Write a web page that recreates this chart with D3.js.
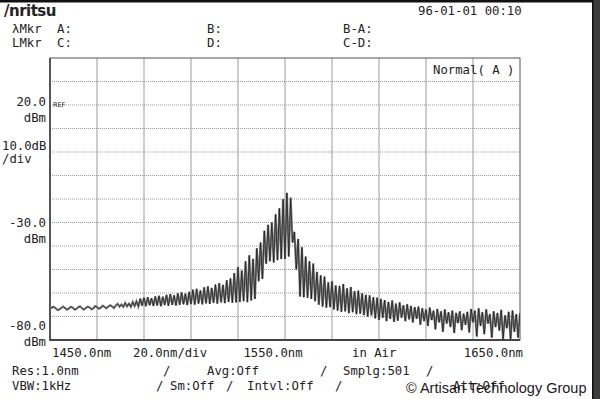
<!DOCTYPE html>
<html>
<head>
<meta charset="utf-8">
<script src="https://cdn.jsdelivr.net/npm/d3@7/dist/d3.min.js"></script>
<style>
  body { margin: 0; background: #fff; }
  svg text { font-family: "DejaVu Sans Mono", monospace; font-size: 12.3px; fill: #222; }
</style>
</head>
<body>
<div id="screen"></div>
<script>
// sweep: 1450 - 1650 nm, one sample every 0.8 nm (251 points)
const startNm = 1450;
const stepNm = 0.8;

// trace level in dBm
const traceDbm = [
  -66.8, -66.2, -65.9, -66.5, -67.2, -67.0, -66.3, -65.8, -66.4, -67.1,
  -66.6, -65.9, -66.2, -67.0, -66.8, -66.0, -65.7, -66.5, -67.1, -66.4,
  -65.8, -66.1, -66.9, -66.6, -65.6, -65.9, -66.7, -66.3, -65.4, -65.9,
  -66.5, -65.8, -65.2, -65.7, -66.4, -65.3, -64.6, -65.8, -64.9, -65.9,
  -64.2, -65.7, -64.5, -65.9, -63.8, -65.6, -63.5, -65.8, -62.4, -65.4,
  -62.0, -65.6, -61.8, -65.2, -62.2, -65.5, -61.5, -65.3, -61.2, -65.6,
  -61.6, -65.1, -60.8, -65.4, -60.5, -65.0, -61.0, -65.3, -60.2, -65.0,
  -59.8, -64.8, -60.3, -65.1, -59.5, -64.7, -58.6, -64.9, -58.2, -64.5,
  -58.9, -64.8, -57.6, -64.4, -57.2, -64.6, -57.8, -64.2, -56.4, -64.5,
  -55.8, -64.0, -56.5, -64.3, -54.6, -63.8, -53.8, -64.1, -51.5, -64.0,
  -49.0, -63.8, -50.5, -63.5, -46.5, -63.9, -44.0, -63.2, -45.5, -62.5,
  -41.0, -55.0, -38.5, -54.0, -33.5, -47.5, -31.0, -46.5, -30.0, -47.0,
  -26.5, -46.0, -24.0, -45.5, -20.0, -45.5, -17.4, -44.5, -19.5, -38.5,
  -34.0, -50.0, -37.0, -61.5, -40.5, -61.8, -44.5, -62.0, -46.5, -62.5,
  -47.5, -63.5, -51.0, -65.0, -52.5, -65.8, -53.0, -66.2, -55.5, -66.0,
  -55.0, -67.0, -56.8, -67.5, -57.0, -68.0, -56.2, -67.8, -58.0, -68.6,
  -57.5, -68.2, -59.2, -69.0, -59.0, -68.8, -60.2, -69.4, -60.8, -70.0,
  -61.0, -69.5, -61.8, -70.8, -62.0, -71.5, -62.5, -70.5, -63.0, -72.0,
  -63.8, -71.0, -63.2, -72.3, -64.5, -71.8, -64.0, -70.5, -65.2, -72.0,
  -64.8, -71.2, -65.5, -72.5, -66.0, -71.0, -65.8, -73.5, -66.5, -72.0,
  -67.0, -74.0, -66.2, -71.5, -67.5, -75.5, -66.8, -72.5, -67.8, -76.5,
  -67.0, -73.0, -68.2, -74.5, -67.5, -77.0, -68.5, -72.8, -67.8, -75.8,
  -68.8, -73.5, -68.0, -76.8, -66.8, -72.5, -67.5, -78.5, -66.5, -74.0,
  -68.2, -77.5, -67.0, -73.0, -69.0, -79.0, -67.8, -74.5, -68.5, -76.0,
  -67.2, -79.5, -69.5, -75.0, -68.0, -80.0, -67.5, -76.5, -69.0, -79.0,
  -68.5
];

const yTickValues = [20, -30, -80];
const yTickText = ['20.0', '-30.0', '-80.0'];
const xTickValues = [1450, 1550, 1650];
const xTickText = ['1450.0nm', '1550.0nm', '1650.0nm'];

const width = 600;
const height = 399;
const plot = { left: 50, right: 520, top: 58, bottom: 340 };

const svg = d3.select('#screen').append('svg')
  .attr('width', width)
  .attr('height', height);

const x = d3.scaleLinear().domain([1450, 1650]).range([plot.left, plot.right]);
const y = d3.scaleLinear().domain([-80, 40]).range([plot.bottom, plot.top]);

// grid
const grid = svg.append('g');
grid.selectAll('line.v')
  .data(d3.range(1470, 1650, 20))
  .enter().append('line')
  .attr('x1', d => x(d)).attr('x2', d => x(d))
  .attr('y1', plot.top).attr('y2', plot.bottom)
  .attr('stroke', '#bdbdbd').attr('stroke-width', 1.5);

grid.selectAll('line.h')
  .data(d3.range(-70, 40, 10))
  .enter().append('line')
  .attr('x1', plot.left).attr('x2', plot.right)
  .attr('y1', d => y(d)).attr('y2', d => y(d))
  .attr('stroke', '#999').attr('stroke-width', 1)
  .attr('stroke-dasharray', '1,1');

// frame
svg.append('rect')
  .attr('x', plot.left).attr('y', plot.top)
  .attr('width', plot.right - plot.left).attr('height', plot.bottom - plot.top)
  .attr('fill', 'none').attr('stroke', '#555').attr('stroke-width', 1);
svg.append('line')
  .attr('x1', plot.left).attr('x2', plot.left)
  .attr('y1', plot.top).attr('y2', plot.bottom + 1)
  .attr('stroke', '#555').attr('stroke-width', 2);
svg.append('line')
  .attr('x1', plot.left).attr('x2', plot.right)
  .attr('y1', plot.bottom).attr('y2', plot.bottom)
  .attr('stroke', '#444').attr('stroke-width', 2);

// trace
svg.append('defs').append('clipPath').attr('id', 'clip')
  .append('rect')
  .attr('x', plot.left).attr('y', plot.top)
  .attr('width', plot.right - plot.left).attr('height', plot.bottom - plot.top);

const line = d3.line()
  .x((d, i) => x(startNm + i * stepNm))
  .y(d => y(d));

// wide grey pass fills the fringes like the dense screen trace, thin dark pass on top
svg.append('path')
  .datum(traceDbm)
  .attr('clip-path', 'url(#clip)')
  .attr('d', line)
  .attr('fill', 'none')
  .attr('stroke', '#858585')
  .attr('stroke-width', 2.2);
svg.append('path')
  .datum(traceDbm)
  .attr('clip-path', 'url(#clip)')
  .attr('d', line)
  .attr('fill', 'none')
  .attr('stroke', '#111')
  .attr('stroke-width', 0.7);

// y labels
const yDy = [1, 4.5, -10];
svg.selectAll('text.ylab')
  .data(yTickValues)
  .enter().append('text')
  .attr('x', 46)
  .attr('y', (d, i) => y(d) + yDy[i])
  .attr('text-anchor', 'end')
  .text((d, i) => yTickText[i]);
svg.selectAll('text.yunit')
  .data(yTickValues)
  .enter().append('text')
  .attr('x', 46)
  .attr('y', (d, i) => y(d) + yDy[i] + 15.5)
  .attr('text-anchor', 'end')
  .text('dBm');

svg.append('text').attr('x', 53).attr('y', 107)
  .style('font-size', '6.5px').style('font-family', 'DejaVu Sans')
  .text('REF');
svg.append('text').attr('x', 2).attr('y', 150).text('10.0dB');
svg.append('text').attr('x', 2).attr('y', 163).text('/div');

// x labels
const xAnchor = ['start', 'middle', 'end'];
const xDx = [2, -12, 3];
svg.selectAll('text.xlab')
  .data(xTickValues)
  .enter().append('text')
  .attr('x', (d, i) => x(d) + xDx[i])
  .attr('y', 357)
  .attr('text-anchor', (d, i) => xAnchor[i])
  .text((d, i) => xTickText[i]);
svg.append('text').attr('x', 133).attr('y', 357).text('20.0nm/div');
svg.append('text').attr('x', 352).attr('y', 357).text('in Air');

svg.append('text').attr('x', 433).attr('y', 74).text('Normal( A )');

// header
svg.append('text').attr('x', 4).attr('y', 16)
  .style('font-family', 'DejaVu Sans').style('font-weight', 'bold').style('font-size', '15px')
  .style('letter-spacing', '-0.5px')
  .text('/nritsu');
svg.append('text').attr('x', 418).attr('y', 15).text('96-01-01 00:10');
const header = [
  ['λMkr', 12, 33], ['A:', 57, 33], ['B:', 207, 33], ['B-A:', 343, 33],
  ['LMkr', 12, 47], ['C:', 57, 47], ['D:', 207, 47], ['C-D:', 343, 47]
];
header.forEach(h => svg.append('text').attr('x', h[1]).attr('y', h[2]).text(h[0]));

// footer
const footer = [
  ['Res:1.0nm', 12, 375], ['/', 163, 375], ['Avg:Off', 207, 375], ['/', 320, 375],
  ['Smplg:501', 343, 375], ['/', 426, 375],
  ['VBW:1kHz', 12, 390], ['/', 156, 390], ['Sm:Off', 170, 390], ['/', 226, 390],
  ['Intvl:Off', 247, 390], ['/', 335, 390], ['Att:Off', 453, 390]
];
footer.forEach(f => svg.append('text').attr('x', f[1]).attr('y', f[2]).text(f[0]));

// screen bezel
svg.append('rect').attr('x', 0).attr('y', 0).attr('width', width).attr('height', 2.5).attr('fill', '#111');
svg.append('rect').attr('x', 592).attr('y', 0).attr('width', 8).attr('height', height).attr('fill', '#3c3c3c');
svg.append('rect').attr('x', 592).attr('y', 0).attr('width', 1.5).attr('height', height).attr('fill', '#111');

// scan watermark
svg.append('text').attr('x', 406).attr('y', 393)
  .style('font-family', 'Liberation Sans, Arial, sans-serif').style('font-size', '14.5px')
  .style('fill', '#1a1a1a')
  .text('© Artisan Technology Group');
</script>
</body>
</html>
